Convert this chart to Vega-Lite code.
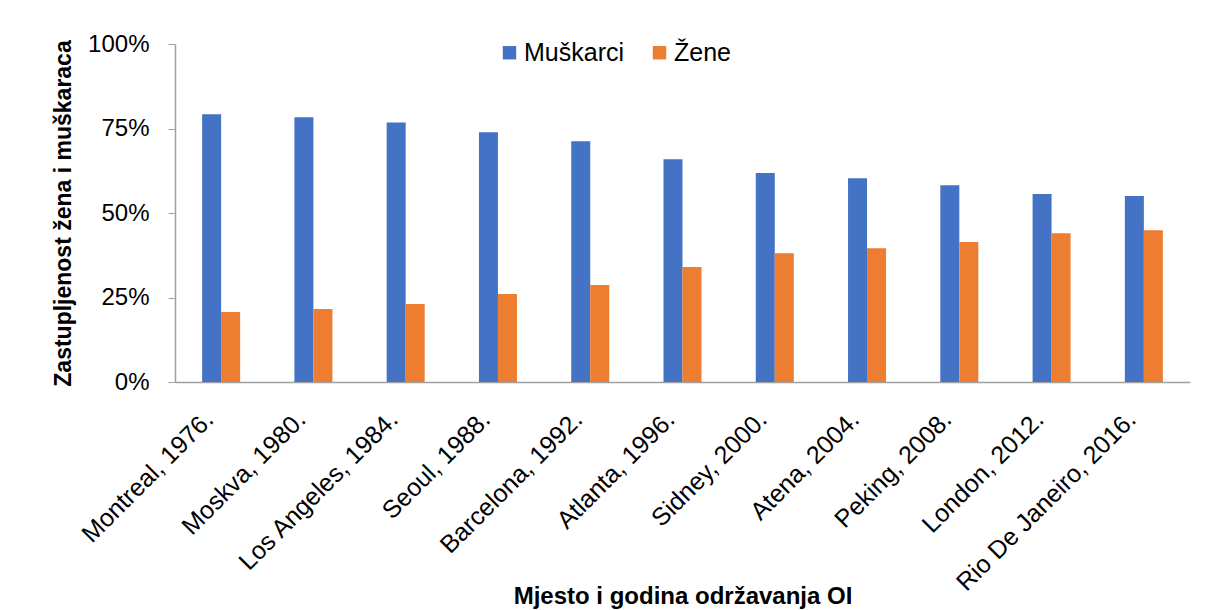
{
  "$schema": "https://vega.github.io/schema/vega-lite/v6.json",
  "width": 1015,
  "height": 338,
  "autosize": {"type": "none"},
  "padding": {"left": 175, "top": 44, "right": 17, "bottom": 228},
  "background": "white",
  "data": {
    "values": [
      {"mjesto": "Montreal, 1976.", "spol": "Muškarci", "udio": 0.792},
      {"mjesto": "Montreal, 1976.", "spol": "Žene", "udio": 0.207},
      {"mjesto": "Moskva, 1980.", "spol": "Muškarci", "udio": 0.783},
      {"mjesto": "Moskva, 1980.", "spol": "Žene", "udio": 0.216},
      {"mjesto": "Los Angeles, 1984.", "spol": "Muškarci", "udio": 0.768},
      {"mjesto": "Los Angeles, 1984.", "spol": "Žene", "udio": 0.231},
      {"mjesto": "Seoul, 1988.", "spol": "Muškarci", "udio": 0.739},
      {"mjesto": "Seoul, 1988.", "spol": "Žene", "udio": 0.26},
      {"mjesto": "Barcelona, 1992.", "spol": "Muškarci", "udio": 0.712},
      {"mjesto": "Barcelona, 1992.", "spol": "Žene", "udio": 0.287},
      {"mjesto": "Atlanta, 1996.", "spol": "Muškarci", "udio": 0.659},
      {"mjesto": "Atlanta, 1996.", "spol": "Žene", "udio": 0.34},
      {"mjesto": "Sidney, 2000.", "spol": "Muškarci", "udio": 0.618},
      {"mjesto": "Sidney, 2000.", "spol": "Žene", "udio": 0.381},
      {"mjesto": "Atena, 2004.", "spol": "Muškarci", "udio": 0.603},
      {"mjesto": "Atena, 2004.", "spol": "Žene", "udio": 0.396},
      {"mjesto": "Peking, 2008.", "spol": "Muškarci", "udio": 0.582},
      {"mjesto": "Peking, 2008.", "spol": "Žene", "udio": 0.414},
      {"mjesto": "London, 2012.", "spol": "Muškarci", "udio": 0.556},
      {"mjesto": "London, 2012.", "spol": "Žene", "udio": 0.44},
      {"mjesto": "Rio De Janeiro, 2016.", "spol": "Muškarci", "udio": 0.55},
      {"mjesto": "Rio De Janeiro, 2016.", "spol": "Žene", "udio": 0.449}
    ]
  },
  "mark": {"type": "bar"},
  "encoding": {
    "x": {
      "field": "mjesto",
      "type": "nominal",
      "sort": null,
      "scale": {"paddingInner": 0.588, "paddingOuter": 0.294},
      "axis": {
        "title": "Mjesto i godina održavanja OI",
        "titleFontSize": 24,
        "titleFontWeight": "bold",
        "titleColor": "black",
        "titleY": 221,
        "titleBaseline": "alphabetic",
        "labelAngle": -45,
        "labelAlign": "right",
        "labelBaseline": "middle",
        "labelLimit": 0,
        "labelFontSize": 25,
        "labelColor": "black",
        "labelPadding": 33,
        "labelOffset": -12,
        "labelOverlap": false,
        "ticks": false,
        "domainColor": "#a0a0a0",
        "domainWidth": 1.5
      }
    },
    "xOffset": {
      "field": "spol",
      "type": "nominal",
      "sort": ["Muškarci", "Žene"],
      "scale": {"paddingInner": 0, "paddingOuter": 0}
    },
    "y": {
      "field": "udio",
      "type": "quantitative",
      "scale": {"domain": [0, 1], "nice": false},
      "axis": {
        "title": "Zastupljenost žena i muškaraca",
        "titleFontSize": 23,
        "titleFontWeight": "bold",
        "titleColor": "black",
        "titlePadding": 12,
        "format": ".0%",
        "values": [0, 0.25, 0.5, 0.75, 1],
        "labelFontSize": 24,
        "labelColor": "black",
        "labelPadding": 19,
        "tickSize": 7,
        "tickColor": "#a0a0a0",
        "domainColor": "#a0a0a0",
        "domainWidth": 1.5,
        "grid": false
      }
    },
    "color": {
      "field": "spol",
      "type": "nominal",
      "sort": ["Muškarci", "Žene"],
      "scale": {"range": ["#4472C4", "#ED7D31"]},
      "legend": {
        "title": null,
        "orient": "none",
        "direction": "horizontal",
        "legendX": 322,
        "legendY": -4,
        "symbolType": "square",
        "symbolSize": 180,
        "symbolStrokeWidth": 0,
        "labelFontSize": 25,
        "labelColor": "black",
        "labelOffset": 2,
        "columnPadding": 22
      }
    }
  },
  "config": {
    "view": {"stroke": null},
    "font": "Liberation Sans"
  }
}
